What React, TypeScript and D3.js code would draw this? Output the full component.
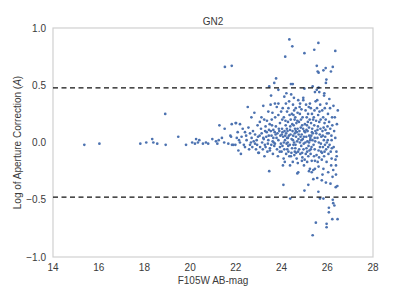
import React from "react";
import * as d3 from "d3";

const chartTitle = "GN2";
const xLabel = "F105W AB-mag";
const xTicks = [14, 16, 18, 20, 22, 24, 26, 28];
const yTicks = [-1.0, -0.5, 0.0, 0.5, 1.0];
const cutLevels = [0.477, -0.477];

// [F105W mag, log aperture correction]
const brightSources: [number, number][] = [
  [15.37, -0.02], [16.03, -0.01], [17.82, -0.01], [18.08, 0.0], [18.34, 0.03], [18.39, 0.0],
  [18.56, -0.01], [18.91, 0.25], [18.93, -0.02], [19.48, 0.05], [19.82, -0.02], [20.09, 0.0],
  [20.21, -0.01], [20.26, 0.03], [20.34, 0.0], [20.4, 0.02], [20.56, -0.01], [20.69, 0.0],
  [20.79, -0.01], [20.97, 0.03], [21.13, 0.01], [21.19, -0.01], [21.25, 0.02], [21.39, 0.04],
  [21.49, 0.0], [21.52, 0.66], [21.82, 0.67], [21.28, 0.15], [21.51, 0.12], [21.82, 0.16],
  [21.76, 0.06], [21.79, 0.05], [21.83, -0.02], [21.98, -0.02], [21.99, 0.17], [21.67, -0.01],
  [21.89, -0.02],
];

const mag22to23: [number, number][] = [
  [22.01, 0.17], [22.18, 0.16], [22.08, 0.09], [22.4, 0.09], [22.04, 0.04], [22.25, 0.05],
  [22.47, 0.02], [22.18, 0.0], [22.4, -0.04], [22.11, -0.07], [22.3, 0.12], [22.35, -0.02],
  [22.45, 0.06], [22.22, -0.1], [22.14, 0.02],
  [22.52, 0.31], [22.81, 0.26], [22.68, 0.22], [22.62, 0.08], [22.84, 0.07], [22.69, 0.04],
  [22.91, 0.02], [22.62, -0.02], [22.84, -0.01], [22.98, -0.09], [22.55, 0.13], [22.75, 0.1],
  [22.95, 0.15], [22.58, -0.06], [22.72, -0.04], [22.88, -0.06], [22.66, 0.0], [22.97, 0.05],
  [22.78, 0.01], [22.93, -0.02],
];

const mag23to24: [number, number][] = [
  [23.2, 0.32], [23.05, 0.18], [23.24, 0.2], [23.13, 0.08], [23.35, 0.09], [23.2, 0.04],
  [23.42, 0.02], [23.06, -0.04], [23.27, -0.02], [23.49, -0.05], [23.01, -0.09], [23.46, -0.25],
  [23.42, 0.27], [23.46, 0.49], [23.1, 0.12], [23.3, 0.14], [23.15, 0.0], [23.38, -0.08],
  [23.25, -0.12], [23.45, 0.11], [23.04, 0.06], [23.33, 0.05], [23.18, -0.06], [23.4, -0.01],
  [23.12, 0.22], [23.28, 0.1], [23.48, 0.16], [23.36, 0.19],
  [23.52, 0.33], [23.86, 0.34], [23.79, 0.31], [23.57, 0.2], [23.86, 0.24], [23.93, 0.17],
  [23.64, 0.11], [23.64, 0.04], [23.86, 0.02], [23.71, -0.01], [23.93, -0.04], [23.49, -0.07],
  [23.76, 0.56], [23.68, 0.52], [23.86, 0.46], [23.54, 0.41], [23.71, 0.34], [23.6, 0.26],
  [23.75, 0.14], [23.82, 0.08], [23.56, 0.06], [23.68, -0.03], [23.9, 0.1], [23.62, -0.1],
  [23.8, -0.06], [23.95, 0.06], [23.58, 0.15], [23.72, 0.22], [23.66, 0.0], [23.84, -0.12],
  [23.98, 0.27], [23.55, -0.02], [23.78, 0.04], [23.92, -0.08], [23.7, 0.09],
];

const mag24to25: [number, number][] = [
  [24.08, -0.37], [24.12, 0.4], [24.16, 0.75], [24.0, -0.08], [24.05, 0.3], [24.1, 0.22],
  [24.18, 0.15], [24.02, 0.12], [24.2, 0.08], [24.07, 0.05], [24.15, 0.02], [24.22, -0.01],
  [24.04, -0.03], [24.12, -0.06], [24.2, -0.1], [24.09, -0.14], [24.17, 0.19], [24.24, 0.27],
  [24.13, 0.1], [24.03, 0.2], [24.21, 0.43], [24.19, 0.34], [24.06, -0.2], [24.24, 0.04],
  [24.14, -0.17], [24.1, 0.0], [24.23, 0.12], [24.01, 0.07],
  [24.34, 0.9], [24.47, 0.84], [24.41, 0.51], [24.49, 0.51], [24.42, 0.42], [24.38, -0.49],
  [24.41, -0.12], [24.49, -0.17], [24.37, -0.2], [24.3, 0.3], [24.45, 0.25], [24.28, 0.18],
  [24.38, 0.14], [24.48, 0.1], [24.32, 0.06], [24.44, 0.03], [24.27, 0.0], [24.36, -0.02],
  [24.46, -0.05], [24.3, -0.08], [24.4, 0.2], [24.26, 0.1], [24.34, -0.12], [24.5, 0.33],
  [24.33, 0.36], [24.47, 0.16], [24.39, 0.07], [24.29, -0.03], [24.43, -0.09], [24.35, 0.24],
  [24.54, 0.39], [24.73, 0.37], [24.73, -0.26], [24.69, -0.27], [24.55, 0.28], [24.6, 0.22],
  [24.65, 0.17], [24.7, 0.12], [24.58, 0.08], [24.63, 0.05], [24.68, 0.01], [24.52, -0.02],
  [24.6, -0.05], [24.72, -0.08], [24.56, -0.11], [24.66, -0.14], [24.62, 0.3], [24.7, 0.26],
  [24.53, 0.15], [24.57, 0.2], [24.67, 0.09], [24.74, 0.03], [24.51, 0.06], [24.61, -0.02],
  [24.71, -0.18], [24.59, 0.12], [24.64, -0.09], [24.55, 0.0], [24.69, 0.19], [24.52, 0.24],
  [24.81, 0.34], [24.95, 0.39], [24.95, 0.37], [24.98, -0.2], [24.8, 0.25], [24.85, 0.2],
  [24.9, 0.15], [24.78, 0.1], [24.88, 0.07], [24.93, 0.03], [24.8, 0.0], [24.86, -0.03],
  [24.96, -0.06], [24.82, -0.1], [24.91, -0.13], [24.76, 0.18], [24.84, 0.13], [24.99, 0.1],
  [24.87, 0.29], [24.77, -0.06], [24.92, 0.22], [24.83, 0.05], [24.97, -0.01], [24.89, -0.16],
  [24.94, 0.12], [24.79, 0.31],
];

const mag25to26: [number, number][] = [
  [25.0, 0.47], [25.0, -0.42], [25.0, 0.78],
  [25.17, -0.12], [25.12, -0.17], [25.17, -0.37], [25.24, -0.23], [25.2, -0.25], [25.24, 0.34],
  [25.05, 0.28], [25.1, 0.22], [25.15, 0.18], [25.2, 0.13], [25.03, 0.09], [25.08, 0.05],
  [25.13, 0.01], [25.18, -0.03], [25.22, -0.07], [25.06, -0.1], [25.11, 0.15], [25.16, 0.25],
  [25.21, 0.06], [25.04, 0.0], [25.09, -0.05], [25.14, 0.1], [25.19, 0.31], [25.23, 0.2],
  [25.02, 0.16], [25.07, 0.33], [25.12, -0.08], [25.25, 0.02], [25.01, -0.15],
  [25.43, 0.81], [25.36, 0.49], [25.46, 0.44], [25.39, -0.24], [25.46, -0.23], [25.32, -0.26],
  [25.32, -0.16], [25.39, -0.32], [25.36, -0.81], [25.5, -0.7], [25.28, 0.3], [25.33, 0.25],
  [25.38, 0.2], [25.43, 0.15], [25.48, 0.1], [25.3, 0.06], [25.35, 0.02], [25.4, -0.02],
  [25.45, -0.06], [25.27, -0.1], [25.34, 0.12], [25.44, 0.28], [25.29, 0.17], [25.49, 0.36],
  [25.37, 0.08], [25.42, -0.12], [25.47, 0.01], [25.31, -0.04], [25.41, 0.22], [25.26, 0.04],
  [25.46, -0.16],
  [25.61, 0.87], [25.54, 0.67], [25.62, 0.61], [25.58, 0.62], [25.62, 0.48], [25.54, 0.46],
  [25.65, 0.44], [25.56, 0.37], [25.58, -0.17], [25.62, -0.21], [25.56, -0.31], [25.61, -0.43],
  [25.68, -0.49], [25.55, 0.3], [25.6, 0.24], [25.65, 0.18], [25.7, 0.12], [25.52, 0.08],
  [25.57, 0.04], [25.63, 0.0], [25.68, -0.04], [25.73, -0.08], [25.53, -0.11], [25.66, 0.27],
  [25.71, 0.2], [25.59, 0.14], [25.74, 0.05], [25.64, -0.13], [25.69, 0.33], [25.51, 0.19],
  [25.72, -0.01],
  [25.83, 0.63], [25.93, 0.65], [25.96, 0.55], [25.94, 0.52], [25.87, 0.43], [25.86, 0.41],
  [25.97, 0.34], [25.76, -0.15], [25.97, -0.17], [25.83, -0.23], [25.79, -0.28], [25.76, -0.33],
  [25.94, -0.35], [25.83, -0.49], [25.97, -0.71], [25.97, -0.74], [25.78, 0.28], [25.82, 0.22],
  [25.88, 0.17], [25.92, 0.11], [25.8, 0.06], [25.85, 0.02], [25.9, -0.02], [25.95, -0.06],
  [25.77, -0.09], [25.84, 0.13], [25.89, 0.3], [25.99, 0.08], [25.81, -0.04], [25.93, 0.2],
  [25.86, -0.12], [25.98, 0.0],
];

const mag26plus: [number, number][] = [
  [26.16, 0.62], [26.24, 0.66], [26.19, -0.14], [26.04, -0.26], [26.24, -0.5], [26.07, -0.57],
  [26.07, -0.61], [26.22, -0.67], [26.2, -0.05], [26.03, 0.25], [26.08, 0.18], [26.13, 0.12],
  [26.18, 0.06], [26.02, 0.02], [26.1, -0.02], [26.15, -0.08], [26.22, 0.15], [26.05, -0.1],
  [26.12, 0.3], [26.21, 0.22], [26.06, 0.08], [26.17, -0.2], [26.09, 0.38], [26.23, -0.3],
  [26.14, -0.36], [26.01, 0.14],
  [26.35, 0.8], [26.41, -0.12], [26.38, -0.2], [26.26, -0.24], [26.38, -0.28], [26.37, -0.39],
  [26.44, -0.38], [26.26, -0.53], [26.31, -0.55], [26.45, -0.67], [26.3, 0.1], [26.35, 0.04],
  [26.42, 0.16], [26.28, -0.04], [26.33, 0.22], [26.4, -0.08], [26.46, 0.28], [26.27, 0.32],
  [26.36, -0.15],
];

const coreExtra: [number, number][] = [
  [23.22, 0.03], [23.44, 0.06], [23.61, 0.01], [23.74, 0.07], [23.88, 0.12], [24.04, 0.09],
  [24.16, 0.06], [24.28, 0.04], [24.37, 0.11], [24.5, 0.02], [24.62, 0.1], [24.75, 0.07],
  [24.87, 0.02], [24.98, 0.05], [25.09, 0.11], [25.2, 0.0], [25.33, 0.09], [25.45, 0.04],
  [25.57, 0.11], [25.67, 0.07], [25.79, 0.1], [25.91, 0.05], [26.04, -0.04], [26.19, 0.02],
  [23.3, -0.04], [23.53, 0.1], [23.97, -0.01], [24.25, -0.06], [24.58, -0.08], [24.9, -0.09],
  [25.28, -0.06], [25.62, -0.07], [25.88, -0.08],
];

const allSources = [
  ...brightSources, ...mag22to23, ...mag23to24, ...mag24to25, ...mag25to26, ...mag26plus,
  ...coreExtra,
];

const W = 415;
const H = 286;
const M = { left: 53, right: 373, top: 28, bottom: 257 };
const FONT = "'Liberation Sans', Arial, sans-serif";
const TEXT = "#3a3a3a";

export default function App() {
  const x = d3.scaleLinear().domain([14, 28]).range([M.left, M.right]);
  const y = d3.scaleLinear().domain([-1, 1]).range([M.bottom, M.top]);
  const fmt = (v: number) => d3.format(".1f")(v).replace("-", "\u2212");

  return (
    <svg width={W} height={H} style={{ position: "absolute", left: 0, top: 0, background: "#fff" }}>
      <rect x={M.left} y={M.top} width={M.right - M.left} height={M.bottom - M.top}
        fill="#fff" stroke="#d0d0d0" strokeWidth={1.2} />
      <g>
        {allSources.map(([m, a], i) => (
          <circle key={i} cx={x(m)} cy={y(a)} r={1.35} fill="#4c72b0" />
        ))}
      </g>
      {cutLevels.map((c, i) => (
        <line key={i} x1={M.left} x2={M.right} y1={y(c)} y2={y(c)}
          stroke="#111" strokeWidth={1.3} strokeDasharray="5,3.5" />
      ))}
      {yTicks.map((t) => (
        <text key={t} x={M.left - 7} y={y(t)} dy="0.35em" textAnchor="end"
          fontFamily={FONT} fontSize={10} fill={TEXT}>{fmt(t)}</text>
      ))}
      {xTicks.map((t) => (
        <text key={t} x={x(t)} y={M.bottom + 14} textAnchor="middle"
          fontFamily={FONT} fontSize={10} fill={TEXT}>{t}</text>
      ))}
      <text x={(M.left + M.right) / 2} y={284} textAnchor="middle"
        fontFamily={FONT} fontSize={10} fill={TEXT}>{xLabel}</text>
      <text transform={`translate(21,${(M.top + M.bottom) / 2}) rotate(-90)`} textAnchor="middle"
        fontFamily={FONT} fontSize={10} fill={TEXT}>
        Log of Aperture Correction (<tspan fontStyle="italic">A</tspan>)
      </text>
      <text x={(M.left + M.right) / 2} y={25} textAnchor="middle"
        fontFamily={FONT} fontSize={10} fill={TEXT}>{chartTitle}</text>
    </svg>
  );
}
